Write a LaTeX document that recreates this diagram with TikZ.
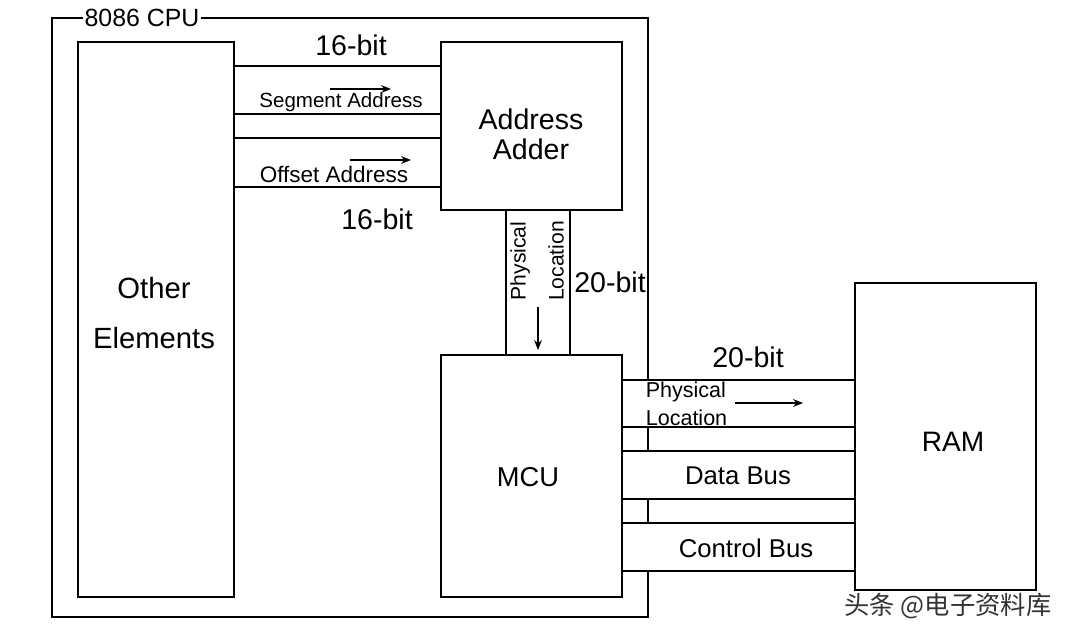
\documentclass[tikz,border=0pt]{standalone}
\usepackage{fontspec}
\setmainfont{Liberation Sans}
\newfontfamily\cjk{Noto Sans CJK SC}
\usetikzlibrary{arrows.meta}
\begin{document}
\begin{tikzpicture}[x=0.025cm,y=-0.025cm,line width=1.2pt,
  lbl/.style={inner sep=0pt,align=center},
  arr/.style={-{Stealth[length=7pt,width=5.5pt]},line width=1pt},
  f14/.style={font=\fontsize{15}{19.5}\selectfont},
  f16/.style={font=\fontsize{16}{20}\selectfont},
  f18/.style={font=\fontsize{18.3}{22}\selectfont},
  f20/.style={font=\fontsize{20.3}{21.5}\selectfont}]
\useasboundingbox[fill=white] (0,0) rectangle (1082,640);
% CPU frame
\draw (52,18) rectangle (648,617);
\node[lbl,fill=white,inner xsep=1pt,font=\fontsize{17.7}{20}\selectfont] (cpu) at (142,18) {8086 CPU};
% boxes
\draw (78,42) rectangle (234,597);
\node[lbl,font=\fontsize{20.8}{35.5}\selectfont] (other) at (154,313) {Other\\Elements};
\draw (441,42) rectangle (622,210);
\node[lbl,f20] (adder) at (531,134) {Address\\Adder};
\draw (441,355) rectangle (622,597);
\node[lbl,font=\fontsize{19.4}{22}\selectfont] (mcu) at (528,477) {MCU};
\draw (855,283) rectangle (1036,590);
\node[lbl,font=\fontsize{20}{22}\selectfont] (ram) at (953,442) {RAM};
% buses other -> adder
\draw (234,66) -- (441,66);
\draw (234,114) -- (441,114);
\draw (234,138) -- (441,138);
\draw (234,187) -- (441,187);
\node[lbl,f20] (b16a) at (351,45) {16-bit};
\node[lbl,font=\fontsize{14.6}{18}\selectfont] (seg) at (341,102) {Segment Address};
\coordinate (sa1) at (330,89); \coordinate (sa2) at (391,89);
\draw[arr] (sa1) -- (sa2);
\node[lbl,f16] (off) at (334,174) {Offset Address};
\coordinate (oa1) at (350,160); \coordinate (oa2) at (411,160);
\draw[arr] (oa1) -- (oa2);
\node[lbl,f20] (b16b) at (377,219) {16-bit};
% adder -> mcu channel
\draw (506,210) -- (506,355);
\draw (570,210) -- (570,355);
\node[lbl,rotate=90,font=\fontsize{15}{27}\selectfont] (pl1) at (537,261) {Physical\\Location};
\coordinate (pa1) at (538,307); \coordinate (pa2) at (538,350);
\draw[arr] (pa1) -- (pa2);
\node[lbl,f20] (b20a) at (610,282) {20-bit};
% mcu -> ram buses
\foreach \a/\b in {380/427,451/499,523/571}{
  \fill[white] (623,\a+1) rectangle (854,\b-1);
  \draw (622,\a) -- (855,\a);
  \draw (622,\b) -- (855,\b);
}
\node[lbl,f20] (b20b) at (748,357) {20-bit};
\node[lbl,font=\fontsize{15.3}{20}\selectfont,align=left,anchor=west] (pl2) at (645,404) {Physical\\Location};
\coordinate (ra1) at (735,403); \coordinate (ra2) at (803,403);
\draw[arr] (ra1) -- (ra2);
\node[lbl,f18] (data) at (738,476) {Data Bus};
\node[lbl,f18] (ctrl) at (746,548) {Control Bus};
% watermark
\node[lbl,text=black!80,font=\cjk\fontsize{18}{20}\selectfont] (wm) at (948,606) {头条 @电子资料库};
\end{tikzpicture}
\end{document}
